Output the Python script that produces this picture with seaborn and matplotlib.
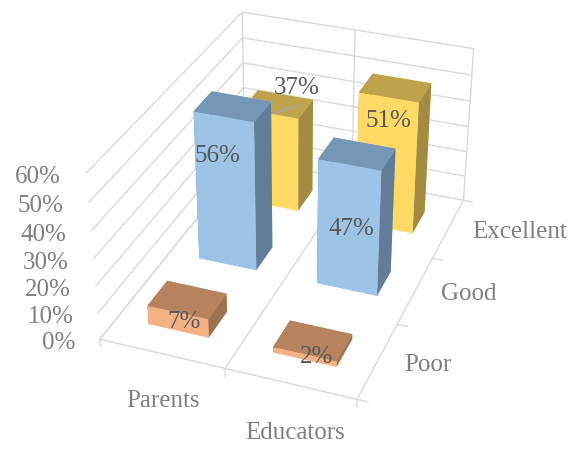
#!/usr/bin/env python3

from matplotlib import pyplot as plt
import seaborn as sns

groups = ["Parents", "Educators"]
ratings = ["Poor", "Good", "Excellent"]
poor = [7, 2]
good = [56, 47]
excellent = [37, 51]
z_ticks = [0, 10, 20, 30, 40, 50, 60]

# front/top/side colours per rating
front = ["#F4B183", "#9DC3E6", "#FFD966"]
top = ["#B7835F", "#7696B8", "#BFA34C"]
side = ["#9E7250", "#637D98", "#A38B42"]

sns.set_theme(style="white")
plt.rcParams['font.family'] = ['Liberation Serif', 'DejaVu Serif']

fig = plt.figure(figsize=(5.81, 4.56), dpi=100)
ax = fig.add_axes([-0.004, 0.072, 1, 1], projection='3d')
ax.view_init(elev=31, azim=-69.5)
ax.set_proj_type('persp', focal_length=0.62)
ax.set_box_aspect((260, 370, 185), zoom=1.04)
ax.set_axis_off()
ax.computed_zorder = False

nx, ny = len(groups), len(ratings)
ax.set_xlim(0, nx)
ax.set_ylim(0, ny)
ax.set_zlim(0, 60)

grey = "#D9D9D9"
text_grey = "#7F7F7F"
label_grey = "#595959"
lw = 1.0

# gridlines, panes are off
for z in z_ticks:
    ax.plot([0, 0], [0, ny], [z, z], color=grey, lw=lw, zorder=1)
    ax.plot([0, nx], [ny, ny], [z, z], color=grey, lw=lw, zorder=1)
    ax.text(-0.15, -0.1, z, f"{z}%", color=text_grey, fontsize=18, ha='right', va='center', zorder=50)
for i in range(nx + 1):
    ax.plot([i, i], [0, ny], [0, 0], color=grey, lw=lw, zorder=1)
    ax.plot([i, i], [ny, ny], [0, 60], color=grey, lw=lw, zorder=1)
    ax.plot([i, i], [0, 0], [0, -3], color=grey, lw=lw, zorder=1)
for j in range(ny + 1):
    ax.plot([nx, nx + 0.08], [j, j], [0, 0], color=grey, lw=lw, zorder=1)
ax.plot([0, nx], [0, 0], [0, 0], color=grey, lw=lw, zorder=1)

series = [poor, good, excellent]
bw = 0.49
bd = 0.37
order = 2
for j in reversed(range(ny)):
    for i in range(nx):
        v = series[j][i]
        # face order: bottom, top, front, back, left, right
        colors = [front[j], top[j], front[j], front[j], side[j], side[j]]
        ax.bar3d(i + (1 - bw) / 2, j + (1 - bd) / 2, 0, bw, bd, v, color=colors, shade=False,
                 zsort='max', edgecolor='none', zorder=order)
        order += 1

# where the value labels sit, tuned by eye
label_x = [[0.56, 1.6], [0.45, 1.53], [0.74, 1.51]]
label_z = [[5, 3], [42, 24.5], [49.5, 43]]
for j in range(ny):
    for i in range(nx):
        v = series[j][i]
        ax.text(label_x[j][i], j + 0.3, label_z[j][i], f"{v}%", color=label_grey, fontsize=18,
                ha='center', va='center', zorder=60)

# leader line of the 37% label
ax.plot([0.53, 0.65], [2.33, 2.53], [37, 37], color="#A6A6A6", lw=1.2, zorder=59)

for i, g in enumerate(groups):
    ax.text(i + 0.69, -0.42, -3, g, color=text_grey, fontsize=18, ha='center', va='center', zorder=50)
for j, r in enumerate(ratings):
    ax.text(nx + 0.2, j + 0.5, 1, r, color=text_grey, fontsize=18, ha='left', va='center', zorder=50)

plt.savefig("out.png", dpi=100)
